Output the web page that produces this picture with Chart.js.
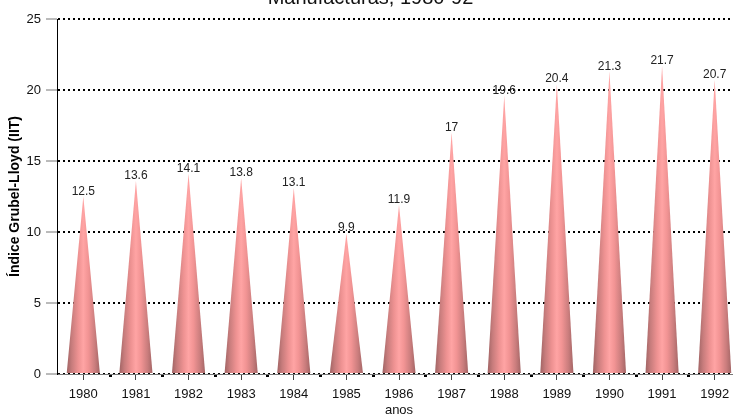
<!DOCTYPE html>
<html>
<head>
<meta charset="utf-8">
<script src="https://cdn.jsdelivr.net/npm/chart.js@4.4.0/dist/chart.umd.min.js"></script>
<style>
  html, body { margin: 0; padding: 0; overflow: hidden; background: #fff; }
  #caixa { position: absolute; left: 0; top: -22px; width: 745px; height: 440px; }
</style>
</head>
<body>
<div id="caixa"><canvas id="canvas_grafico"></canvas></div>
<script>
// dados
var anos = ['1980', '1981', '1982', '1983', '1984', '1985', '1986', '1987', '1988', '1989', '1990', '1991', '1992'];
var indiceIIT = [12.5, 13.6, 14.1, 13.8, 13.1, 9.9, 11.9, 17, 19.6, 20.4, 21.3, 21.7, 20.7];
var ticksY = [0, 5, 10, 15, 20, 25];

Chart.defaults.font.family = "'Liberation Sans', Arial, sans-serif";
Chart.defaults.color = '#111';

// desenha cones no lugar das barras
var cones = {
    id: 'cones',
    beforeDatasetDraw: function (chart, args) {
        var ctx = chart.ctx;
        var meta = args.meta;
        meta.data.forEach(function (el, i) {
            var x = el.x, topo = el.y, base = el.base, meia = el.width / 2;
            var grad = ctx.createLinearGradient(x - meia, 0, x + meia, 0);
            grad.addColorStop(0, '#a06464');
            grad.addColorStop(0.15, '#c77c7c');
            grad.addColorStop(0.35, '#ee9292');
            grad.addColorStop(0.5, '#ffa4a4');
            grad.addColorStop(0.65, '#f29494');
            grad.addColorStop(0.85, '#ca7d7d');
            grad.addColorStop(1, '#a46666');
            ctx.save();
            ctx.beginPath();
            ctx.moveTo(x - meia, base);
            ctx.lineTo(x, topo);
            ctx.lineTo(x + meia, base);
            ctx.closePath();
            ctx.fillStyle = grad;
            ctx.fill();
            // rótulo do valor
            ctx.fillStyle = '#222';
            ctx.font = "12px 'Liberation Sans', Arial, sans-serif";
            ctx.textAlign = 'center';
            ctx.textBaseline = 'alphabetic';
            ctx.fillText(String(indiceIIT[i]), x, topo - 2);
            ctx.restore();
        });
        return false;
    },
    afterDraw: function (chart) {
        // pontinhos entre as categorias no eixo x
        var ctx = chart.ctx;
        var sx = chart.scales.x;
        var y0 = chart.chartArea.bottom;
        ctx.save();
        ctx.fillStyle = '#000';
        for (var i = 0; i < anos.length - 1; i++) {
            var xm = (sx.getPixelForTick(i) + sx.getPixelForTick(i + 1)) / 2;
            ctx.fillRect(Math.round(xm) - 1, y0 + 1, 3, 2);
        }
        ctx.restore();
    }
};

var ctx = document.getElementById('canvas_grafico').getContext('2d');
var grafico = new Chart(ctx, {
    type: 'bar',
    data: {
        labels: anos,
        datasets: [{
            label: 'Índice Grubel-Lloyd (IIT)',
            data: indiceIIT,
            backgroundColor: '#ff9f9f',
            barPercentage: 0.63,
            categoryPercentage: 1
        }]
    },
    options: {
        responsive: true,
        maintainAspectRatio: false,
        animation: false,
        layout: { padding: { left: 0, right: 4, top: 0, bottom: 0 } },
        plugins: {
            legend: { display: false },
            tooltip: { enabled: false },
            title: {
                display: true,
                text: 'Manufacturas, 1980-92',
                color: '#111',
                font: { size: 20, weight: 'normal' },
                padding: { top: 8, bottom: 9 }
            }
        },
        scales: {
            x: {
                afterFit: function (s) { s.height = 44; },
                grid: {
                    drawOnChartArea: false,
                    tickLength: 6,
                    tickColor: '#444',
                    offset: false
                },
                border: { display: true, color: '#777', width: 1 },
                ticks: { padding: 7, font: { size: 13 }, color: '#111', maxRotation: 0 },
                title: { display: true, text: 'anos', font: { size: 13 }, color: '#111', padding: { top: 0, bottom: 0 } }
            },
            y: {
                min: 0,
                max: 25,
                afterFit: function (s) { s.width = 57; },
                afterBuildTicks: function (s) { s.ticks = ticksY.map(function (v) { return { value: v }; }); },
                grid: {
                    color: '#000',
                    lineWidth: 2,
                    tickLength: 11,
                    tickColor: '#777',
                    tickWidth: 1,
                    tickBorderDash: []
                },
                border: { display: true, color: '#000', width: 1, dash: [2, 3] },
                ticks: { padding: 5, font: { size: 13 }, color: '#111' },
                title: {
                    display: true,
                    text: 'Índice Grubel-Lloyd (IIT)',
                    font: { size: 14, weight: 'bold' },
                    color: '#000',
                    padding: { top: 7, bottom: 0 }
                }
            }
        }
    },
    plugins: [cones]
});
</script>
</body>
</html>
